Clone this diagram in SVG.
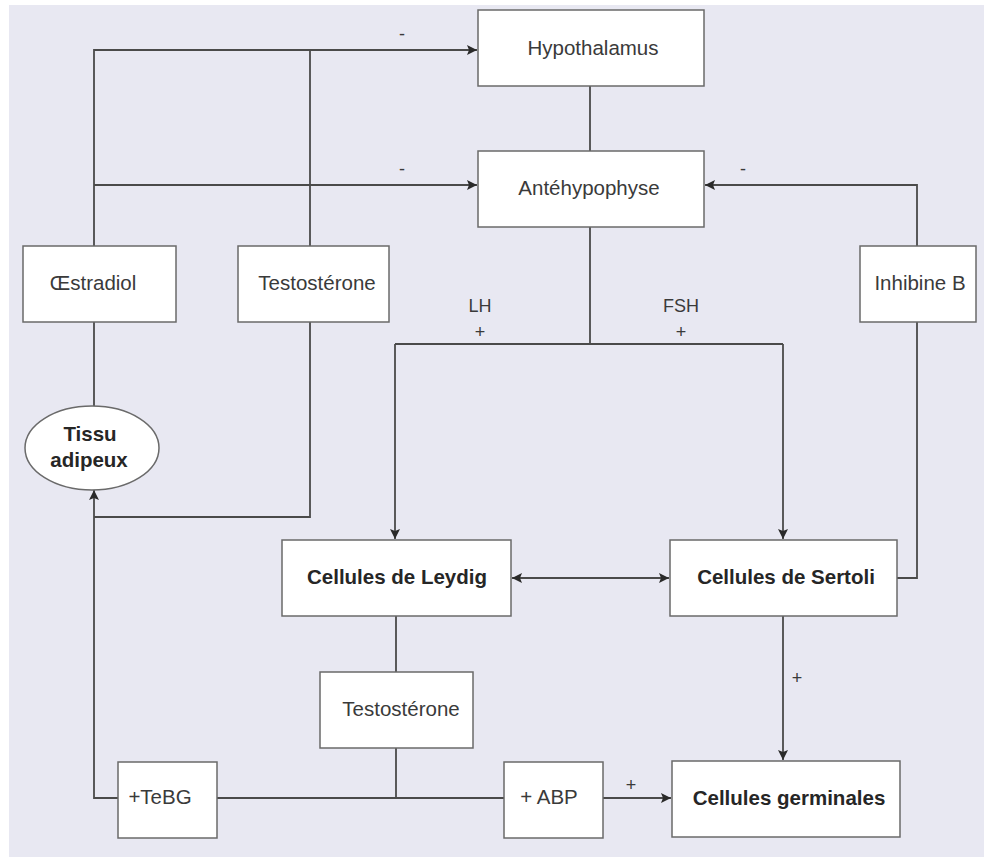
<svg xmlns="http://www.w3.org/2000/svg" width="984" height="857" viewBox="0 0 984 857">
<style>
.box{fill:#ffffff;stroke:#6a6a6a;stroke-width:1.5}
.t{font-family:"Liberation Sans",Arial,sans-serif;font-size:20.5px;fill:#3a3a3a;text-anchor:middle}
.b{font-weight:bold;fill:#262626}
.lbl{font-family:"Liberation Sans",Arial,sans-serif;font-size:18px;fill:#3a3a3a;text-anchor:middle}
.ln{fill:none;stroke:#4a4a4a;stroke-width:1.8}
</style>
<defs>
<marker id="ah" viewBox="0 0 10 10" refX="10" refY="5" markerWidth="10" markerHeight="10" markerUnits="userSpaceOnUse" orient="auto-start-reverse">
<path d="M0,0 L10,5 L0,10 L2,5 Z" fill="#2a2a2a"/>
</marker>
</defs>
<rect x="0" y="0" width="984" height="857" fill="#ffffff"/>
<rect x="9" y="5" width="975" height="852" fill="#e8e8f2"/>

<g id="connectors">
<path class="ln" d="M94,246 V50 H477" marker-end="url(#ah)"/>
<path class="ln" d="M310,246 V50"/>
<path class="ln" d="M94,185 H477" marker-end="url(#ah)"/>
<path class="ln" d="M590,86 V151"/>
<path class="ln" d="M590,227 V344"/>
<path class="ln" d="M395,344 H783"/>
<path class="ln" d="M395,344 V539" marker-end="url(#ah)"/>
<path class="ln" d="M783,344 V539" marker-end="url(#ah)"/>
<path class="ln" d="M94,322 V406"/>
<path class="ln" d="M310,322 V517 H94"/>
<path class="ln" d="M118,798 H94 V490" marker-end="url(#ah)"/>
<path class="ln" d="M897,578 H917 V322"/>
<path class="ln" d="M917,246 V185 H705" marker-end="url(#ah)"/>
<path class="ln" d="M512,578 H669" marker-start="url(#ah)" marker-end="url(#ah)"/>
<path class="ln" d="M783,616 V760" marker-end="url(#ah)"/>
<path class="ln" d="M396,616 V672"/>
<path class="ln" d="M396,748 V798"/>
<path class="ln" d="M217,798 H504"/>
<path class="ln" d="M603,798 H671" marker-end="url(#ah)"/>
<text class="lbl" x="402" y="40">-</text>
<text class="lbl" x="402" y="175">-</text>
<text class="lbl" x="743" y="175">-</text>
<text class="lbl" x="480" y="312">LH</text>
<text class="lbl" x="480" y="338">+</text>
<text class="lbl" x="681" y="312">FSH</text>
<text class="lbl" x="681" y="338">+</text>
<text class="lbl" x="797" y="684">+</text>
<text class="lbl" x="631" y="791">+</text>
</g>

<g id="hypothalamus"><rect class="box" x="478" y="10" width="226" height="76"/><text class="t" x="593" y="55">Hypothalamus</text></g>
<g id="antehypophyse"><rect class="box" x="478" y="151" width="226" height="76"/><text class="t" x="589" y="195">Antéhypophyse</text></g>
<g id="oestradiol"><rect class="box" x="23" y="246" width="153" height="76"/><text class="t" x="93" y="290">Œstradiol</text></g>
<g id="testosterone1"><rect class="box" x="238" y="246" width="151" height="76"/><text class="t" x="317" y="290">Testostérone</text></g>
<g id="inhibine"><rect class="box" x="860" y="246" width="116" height="76"/><text class="t" x="920" y="290">Inhibine B</text></g>
<g id="tissu"><ellipse cx="92" cy="448" rx="67" ry="42" fill="#ffffff" stroke="#6a6a6a" stroke-width="1.5"/><text class="t b" x="90" y="441">Tissu</text><text class="t b" x="89" y="467">adipeux</text></g>
<g id="leydig"><rect class="box" x="282" y="540" width="229" height="76"/><text class="t b" x="397" y="584">Cellules de Leydig</text></g>
<g id="sertoli"><rect class="box" x="670" y="540" width="227" height="76"/><text class="t b" x="786" y="584">Cellules de Sertoli</text></g>
<g id="testosterone2"><rect class="box" x="320" y="672" width="153" height="76"/><text class="t" x="401" y="716">Testostérone</text></g>
<g id="tebg"><rect class="box" x="118" y="762" width="99" height="76"/><text class="t" x="160" y="804">+TeBG</text></g>
<g id="abp"><rect class="box" x="504" y="762" width="99" height="76"/><text class="t" x="549" y="804">+ ABP</text></g>
<g id="germinales"><rect class="box" x="672" y="761" width="228" height="76"/><text class="t b" x="789" y="805">Cellules germinales</text></g>
</svg>
